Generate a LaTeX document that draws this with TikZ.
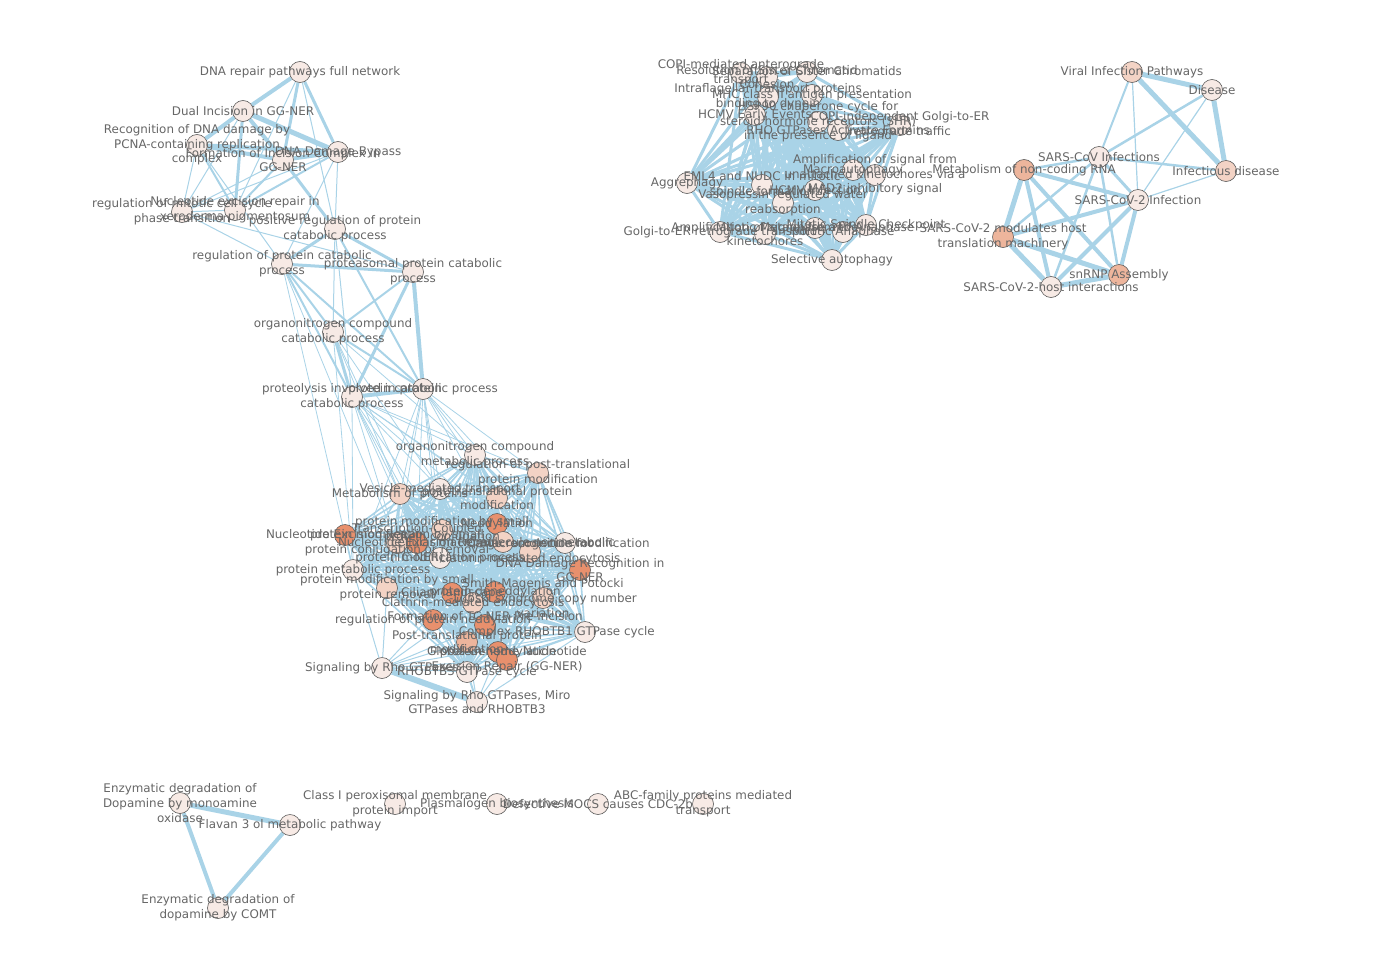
\documentclass[tikz,border=0pt]{standalone}
\usepackage{fontspec}
\setmainfont{DejaVu Sans}
\usetikzlibrary{positioning}
\definecolor{eBlue}{HTML}{A9D3E7}
\definecolor{nLight}{HTML}{F7EAE5}
\definecolor{nPink}{HTML}{F3D3C5}
\definecolor{nSalmon}{HTML}{EDB59C}
\definecolor{nOrange}{HTML}{E8906D}
\definecolor{nRim}{HTML}{5A5A5A}
\definecolor{lInk}{HTML}{666666}
\pgfdeclarelayer{edges}
\pgfdeclarelayer{labels}
\pgfsetlayers{edges,main,labels}
% one enrichment term: circle + label on top
\newcommand{\term}[5]{%
  \node[term, fill=#4] (#1) at (#2,#3) {};
  \begin{pgfonlayer}{labels}\node[termlabel] (#1-l) at (#1) {#5};\end{pgfonlayer}}
\begin{document}
\begin{tikzpicture}[x=1pt, y=-1pt,
    term/.style={circle, draw=nRim, line width=0.6pt, minimum size=21pt, inner sep=0pt},
    termlabel/.style={align=center, text=lInk, inner sep=0pt, font=\fontsize{11.9}{14.7}\selectfont},
    sim/.style={draw=eBlue, line width=#1}, sim/.default=1pt]
  \useasboundingbox (0,0) rectangle (1384,958);

  % DNA repair / catabolic group
  \term{dnarep}{300}{72}{nLight}{DNA repair pathways full network}
  \term{dualinc}{243}{111}{nLight}{Dual Incision in GG-NER}
  \term{pcna}{197}{145}{nLight}{Recognition of DNA damage by\\PCNA-containing replication\\complex}
  \term{formgg}{283}{160}{nLight}{Formation of Incision Complex in\\GG-NER}
  \term{dnabyp}{338}{152}{nLight}{DNA Damage Bypass}
  \term{mitcc}{182}{212}{nLight}{regulation of mitotic cell cycle\\phase transition}
  \term{xpnucl}{235}{210}{nLight}{Nucleotide excision repair in\\xeroderma pigmentosum}
  \term{posreg}{335}{229}{nLight}{positive regulation of protein\\catabolic process}
  \term{regcat}{282}{264}{nLight}{regulation of protein catabolic\\process}
  \term{proteas}{413}{272}{nLight}{proteasomal protein catabolic\\process}
  \term{orgcat}{333}{332}{nLight}{organonitrogen compound\\catabolic process}
  \term{proteol}{352}{397}{nLight}{proteolysis involved in protein\\catabolic process}
  \term{protcat}{423}{389}{nLight}{protein catabolic process}

  % protein modification group
  \term{orgmet}{475}{455}{nLight}{organonitrogen compound\\metabolic process}
  \term{regptm}{538}{473}{nPink}{regulation of post-translational\\protein modification}
  \term{vesic}{440}{489}{nLight}{Vesicle-mediated transport}
  \term{metprot}{400}{494}{nPink}{Metabolism of proteins}
  \term{ptpm}{497}{498}{nPink}{post-translational protein\\modification}
  \term{ner}{345}{535}{nOrange}{Nucleotide Excision Repair}
  \term{neddyl}{497}{524}{nOrange}{Neddylation}
  \term{pmspc}{442}{530}{nPink}{protein modification by small\\protein conjugation}
  \term{pmspcr}{397}{543}{nPink}{protein modification by small\\protein conjugation or removal}
  \term{tcner}{417}{543}{nOrange}{Transcription-Coupled\\Nucleotide Excision Repair\\(TC-NER)}
  \term{macmod}{565}{543}{nLight}{macromolecule modification}
  \term{nonmet}{503}{542}{nPink}{cellular macromolecule nonmetabolic}
  \term{cargo}{530}{552}{nPink}{Cargo recognition for\\clathrin-mediated endocytosis}
  \term{pmod}{440}{558}{nLight}{protein modification process}
  \term{ddrgg}{580}{570}{nOrange}{DNA Damage Recognition in\\GG-NER}
  \term{protmet}{353}{570}{nLight}{protein metabolic process}
  \term{pmspr}{387}{588}{nPink}{protein modification by small\\protein removal}
  \term{ciliary}{452}{593}{nOrange}{Ciliary landscape}
  \term{dened}{495}{592}{nOrange}{protein deneddylation}
  \term{clath}{473}{603}{nPink}{Clathrin-mediated endocytosis}
  \term{smith}{543}{598}{nPink}{Smith-Magenis and Potocki\\-Lupski syndrome copy number\\variation}
  \term{regned}{433}{620}{nOrange}{regulation of protein neddylation}
  \term{tcpre}{485}{625}{nOrange}{Formation of TC-NER Pre-Incision\\Complex}
  \term{ptpmr}{467}{642}{nSalmon}{Post-translational protein\\modification}
  \term{rhobtb1}{585}{632}{nLight}{RHOBTB1 GTPase cycle}
  \term{protned}{498}{652}{nOrange}{protein neddylation}
  \term{ggner}{507}{660}{nOrange}{Global Genome Nucleotide\\Excision Repair (GG-NER)}
  \term{rho}{382}{668}{nLight}{Signaling by Rho GTPases}
  \term{rhobtb3}{467}{672}{nLight}{RHOBTB3 GTPase cycle}
  \term{rhomiro}{477}{702}{nLight}{Signaling by Rho GTPases, Miro\\GTPases and RHOBTB3}

  % mitosis / trafficking group
  \term{copi}{741}{73}{nLight}{COPI-mediated anterograde\\transport}
  \term{rescoh}{767}{77}{nLight}{Resolution of Sister Chromatid\\Cohesion}
  \term{sepsis}{807}{72}{nLight}{Separation of Sister Chromatids}
  \term{ift}{768}{97}{nLight}{Intraflagellar transport proteins\\binding to dynein}
  \term{mhc}{812}{95}{nLight}{MHC class II antigen presentation}
  \term{hcmvee}{755}{115}{nLight}{HCMV Early Events}
  \term{hsp90}{818}{122}{nLight}{HSP90 chaperone cycle for\\steroid hormone receptors (SHR)\\in the presence of ligand}
  \term{rhoform}{838}{130}{nLight}{RHO GTPases Activate Formins}
  \term{copiind}{900}{125}{nLight}{COPI-independent Golgi-to-ER\\retrograde traffic}
  \term{aggre}{687}{183}{nLight}{Aggrephagy}
  \term{eml4}{762}{185}{nLight}{EML4 and NUDC in mitotic\\spindle formation}
  \term{hcmvinf}{815}{190}{nLight}{HCMV Infection}
  \term{vaso}{783}{203}{nLight}{Vasopressin regulated water\\reabsorption}
  \term{macro}{853}{170}{nLight}{Macroautophagy}
  \term{ampl}{875}{175}{nLight}{Amplification  of signal from\\unattached  kinetochores via a\\MAD2 inhibitory signal}
  \term{msc}{866}{225}{nLight}{Mitotic Spindle Checkpoint}
  \term{amplk}{765}{234}{nLight}{Amplification of signal from the\\kinetochores}
  \term{golgi}{720}{232}{nLight}{Golgi-to-ER retrograde transport}
  \term{mma}{815}{228}{nLight}{Mitotic Metaphase and Anaphase}
  \term{mana}{843}{232}{nLight}{Mitotic Anaphase}
  \term{selaut}{832}{260}{nLight}{Selective autophagy}

  % viral group
  \term{vip}{1132}{72}{nPink}{Viral Infection Pathways}
  \term{disease}{1212}{90}{nLight}{Disease}
  \term{sarsinf}{1099}{157}{nLight}{SARS-CoV Infections}
  \term{ncrna}{1024}{170}{nSalmon}{Metabolism of non-coding RNA}
  \term{infd}{1226}{171}{nPink}{Infectious disease}
  \term{sars2}{1138}{200}{nLight}{SARS-CoV-2 Infection}
  \term{modul}{1003}{237}{nSalmon}{SARS-CoV-2 modulates host\\translation machinery}
  \term{snrnp}{1119}{275}{nSalmon}{snRNP Assembly}
  \term{hostint}{1051}{287}{nLight}{SARS-CoV-2-host interactions}

  % small groups and singletons
  \term{dopmao}{180}{803}{nLight}{Enzymatic degradation of\\Dopamine by monoamine\\oxidase}
  \term{flavan}{290}{825}{nLight}{Flavan 3 ol metabolic pathway}
  \term{comt}{218}{908}{nLight}{Enzymatic degradation of\\dopamine by COMT}
  \term{pexim}{395}{804}{nLight}{Class I peroxisomal membrane\\protein import}
  \term{plasm}{497}{804}{nLight}{Plasmalogen biosynthesis}
  \term{mocs}{598}{804}{nLight}{Defective MOCS causes CDC-2b}
  \term{abc}{703}{804}{nLight}{ABC-family proteins mediated\\transport}

  \begin{pgfonlayer}{edges}
    % DNA repair / catabolic group
    \draw[sim=4pt] (dnarep) -- (dualinc);
    \draw[sim=3pt] (dnarep) -- (formgg);
    \draw[sim=3pt] (dnarep) -- (dnabyp);
    \draw[sim] (dnarep) -- (xpnucl);
    \draw[sim] (dnarep) -- (pcna);
    \draw[sim] (dnarep) -- (posreg);
    \draw[sim=4pt] (dualinc) -- (pcna);
    \draw[sim=4pt] (dualinc) -- (formgg);
    \draw[sim=5pt] (dualinc) -- (dnabyp);
    \draw[sim=3pt] (dualinc) -- (xpnucl);
    \draw[sim] (dualinc) -- (mitcc);
    \draw[sim=4pt] (pcna) -- (formgg);
    \draw[sim=4pt] (pcna) -- (dnabyp);
    \draw[sim=2pt] (pcna) -- (xpnucl);
    \draw[sim] (pcna) -- (mitcc);
    \draw[sim] (pcna) -- (regcat);
    \draw[sim=4pt] (formgg) -- (dnabyp);
    \draw[sim=2pt] (formgg) -- (xpnucl);
    \draw[sim=3pt] (formgg) -- (posreg);
    \draw[sim] (formgg) -- (mitcc);
    \draw[sim=2pt] (dnabyp) -- (xpnucl);
    \draw[sim] (dnabyp) -- (mitcc);
    \draw[sim] (dnabyp) -- (posreg);
    \draw[sim] (dnabyp) -- (regcat);
    \draw[sim] (xpnucl) -- (mitcc);
    \draw[sim] (mitcc) -- (regcat);
    \draw[sim] (mitcc) -- (proteas);
    \draw[sim=3pt] (posreg) -- (regcat);
    \draw[sim=3pt] (posreg) -- (proteas);
    \draw[sim] (posreg) -- (orgcat);
    \draw[sim] (posreg) -- (proteol);
    \draw[sim=2pt] (posreg) -- (protcat);
    \draw[sim=3pt] (regcat) -- (proteas);
    \draw[sim=2pt] (regcat) -- (orgcat);
    \draw[sim=2pt] (regcat) -- (proteol);
    \draw[sim=2pt] (regcat) -- (protcat);
    \draw[sim=2pt] (proteas) -- (orgcat);
    \draw[sim=3pt] (proteas) -- (proteol);
    \draw[sim=4pt] (proteas) -- (protcat);
    \draw[sim=3pt] (orgcat) -- (proteol);
    \draw[sim=2pt] (orgcat) -- (protcat);
    \draw[sim=4pt] (proteol) -- (protcat);
    % catabolic group down to protein modification group
    \foreach \t in {orgmet,regptm,vesic,metprot,ptpm,pmspc,pmspcr,pmod,protmet,macmod,neddyl,tcner}{
      \draw[sim=0.8pt] (proteol) -- (\t);
      \draw[sim=0.8pt] (protcat) -- (\t);}
    \foreach \t in {orgmet,metprot,protmet,pmod,vesic}
      \draw[sim=0.8pt] (orgcat) -- (\t);
    \draw[sim=0.8pt] (regcat) -- (protmet);
    \draw[sim=0.8pt] (regcat) -- (pmspcr);

    % protein modification group, every pair
    \def\lowcore{orgmet,regptm,vesic,metprot,ptpm,ner,neddyl,pmspc,pmspcr,tcner,macmod,nonmet,cargo,pmod,ddrgg,protmet,pmspr,ciliary,dened,clath,smith,regned,tcpre,ptpmr,rhobtb1,protned,ggner,rhobtb3}
    \foreach \a [count=\i] in \lowcore {
      \foreach \b [count=\j] in \lowcore {
        \ifnum\j>\i \draw[sim=1.6pt] (\a) -- (\b); \fi }}
    \draw[sim=6pt] (rho) -- (rhomiro);
    \draw[sim=2pt] (rhomiro) -- (rhobtb3);
    \foreach \t in {rhobtb3,rhobtb1,ptpmr,clath,ciliary,pmspr,protmet,tcpre,ggner}
      \draw[sim] (rho) -- (\t);
    \foreach \t in {rhobtb1,ggner,protned,ptpmr}
      \draw[sim] (rhomiro) -- (\t);

    % mitosis / trafficking group, every pair
    \def\midcore{copi,rescoh,sepsis,ift,mhc,hcmvee,hsp90,rhoform,copiind,aggre,eml4,hcmvinf,vaso,macro,ampl,msc,amplk,golgi,mma,mana,selaut}
    \foreach \a [count=\i] in \midcore {
      \foreach \b [count=\j] in \midcore {
        \ifnum\j>\i \draw[sim=3pt] (\a) -- (\b); \fi }}

    % viral group
    \draw[sim=5pt] (vip) -- (disease);
    \draw[sim=5pt] (vip) -- (infd);
    \draw[sim=2pt] (vip) -- (sarsinf);
    \draw[sim=1.2pt] (vip) -- (sars2);
    \draw[sim=5pt] (disease) -- (infd);
    \draw[sim=2.5pt] (disease) -- (sarsinf);
    \draw[sim=1.2pt] (disease) -- (sars2);
    \draw[sim=2.5pt] (sarsinf) -- (infd);
    \draw[sim=1.2pt] (sars2) -- (infd);
    \draw[sim=2.5pt] (ncrna) -- (sarsinf);
    \draw[sim=4pt] (ncrna) -- (sars2);
    \draw[sim=5pt] (ncrna) -- (modul);
    \draw[sim=4pt] (ncrna) -- (hostint);
    \draw[sim=4pt] (ncrna) -- (snrnp);
    \draw[sim=3pt] (sarsinf) -- (sars2);
    \draw[sim=2.5pt] (sarsinf) -- (modul);
    \draw[sim=2.5pt] (sarsinf) -- (hostint);
    \draw[sim=2.5pt] (sarsinf) -- (snrnp);
    \draw[sim=4pt] (sars2) -- (modul);
    \draw[sim=4pt] (sars2) -- (hostint);
    \draw[sim=4pt] (sars2) -- (snrnp);
    \draw[sim=5pt] (modul) -- (hostint);
    \draw[sim=5pt] (modul) -- (snrnp);
    \draw[sim=5pt] (hostint) -- (snrnp);

    % dopamine triangle
    \draw[sim=5pt] (dopmao) -- (flavan);
    \draw[sim=4pt] (dopmao) -- (comt);
    \draw[sim=4pt] (flavan) -- (comt);
  \end{pgfonlayer}
\end{tikzpicture}
\end{document}
